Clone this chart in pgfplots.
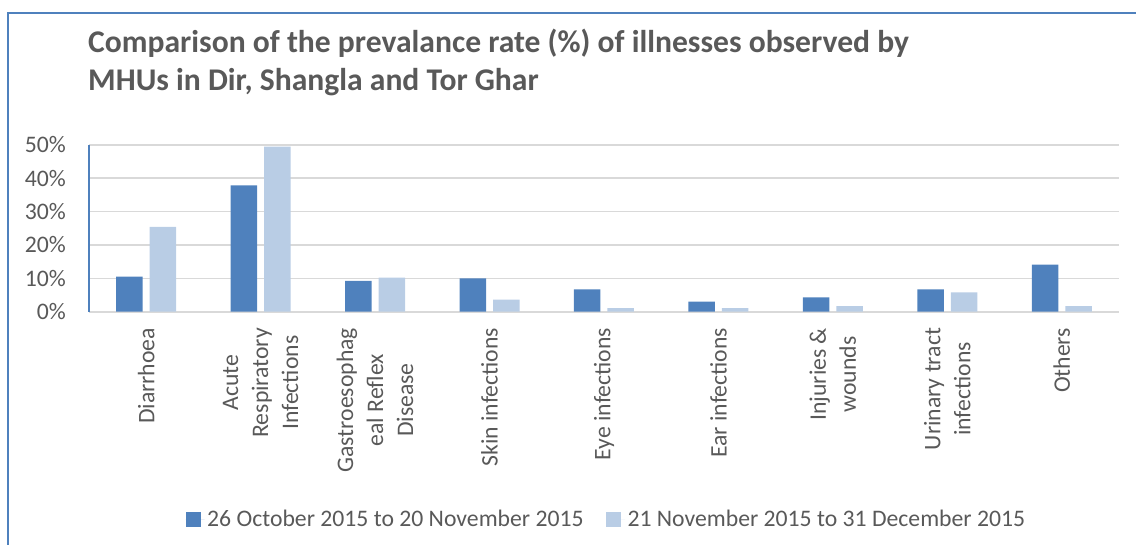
\documentclass[border=0pt]{standalone}
\usepackage{pgfplots}
\pgfplotsset{compat=1.18}
\usepackage{fontspec}
\setmainfont{Carlito}
\definecolor{txt}{HTML}{595959}
\definecolor{dark}{HTML}{4F81BD}
\definecolor{light}{HTML}{B9CDE5}
\definecolor{grid}{HTML}{D9D9D9}
\definecolor{frame}{HTML}{4F81BD}
\begin{document}
\begin{tikzpicture}[x=1pt,y=1pt]
\useasboundingbox (0,0) rectangle (1136,-544);
\draw[frame, line width=1.6pt] (1137,-13) -- (8,-13) -- (8,-545);
\node[anchor=base west, inner sep=0pt, text=txt, font=\fontsize{31.6}{36}\selectfont\bfseries] at (88,-52.7) {Comparison of the prevalance rate (\%) of illnesses observed by};
\node[anchor=base west, inner sep=0pt, text=txt, font=\fontsize{31.6}{36}\selectfont\bfseries] at (88,-90) {MHUs in Dir, Shangla and Tor Ghar};
\begin{axis}[
  at={(89pt,-311.7pt)}, anchor=south west,
  scale only axis, width=1030pt, height=167pt,
  ybar=7pt, bar width=26.5pt,
  xmin=-0.5, xmax=8.5, ymin=0, ymax=50,
  xtick={0,...,8},
  xticklabels={Diarrhoea, Acute\\Respiratory\\Infections, Gastroesophag\\eal Reflex\\Disease, Skin infections, Eye infections, Ear infections, Injuries \&\\wounds, Urinary tract\\infections, Others},
  ytick={0,10,...,50},
  yticklabels={0\%,10\%,20\%,30\%,40\%,50\%},
  major tick length=0pt, tick style={draw=none},
  axis x line*=bottom, axis y line*=left,
  x axis line style={grid, line width=1.6pt},
  y axis line style={frame, line width=1.2pt},
  xmajorgrids=false, ymajorgrids=true,
  y grid style={grid, line width=1.6pt},
  tick label style={text=txt, font=\fontsize{23.7}{30}\selectfont},
  xticklabel style={rotate=90, anchor=east, align=center, inner sep=0pt},
  yticklabel style={anchor=east, inner sep=0pt},
  xticklabel shift=16pt, yticklabel shift=23pt,
  legend columns=2,
  legend style={at={(0.0908,-1.244)}, anchor=west, draw=none, fill=none,
    font=\fontsize{23.7}{28}\selectfont, text=txt,
    nodes={inner sep=2.5pt},
    /tikz/every even column/.append style={column sep=20pt}},
  legend image code/.code={\fill[#1] (0pt,-7.5pt) rectangle (15pt,7.5pt); \path (0pt,0pt) -- (19pt,0pt);},
]
\addplot[fill=dark, draw=none] coordinates {(0,10.5) (1,37.8) (2,9.2) (3,10.0) (4,6.7) (5,3.0) (6,4.3) (7,6.7) (8,14.1)};
\addplot[fill=light, draw=none] coordinates {(0,25.4) (1,49.4) (2,10.2) (3,3.6) (4,1.1) (5,1.1) (6,1.7) (7,5.8) (8,1.7)};
\legend{26 October 2015 to 20 November 2015, 21 November 2015 to 31 December 2015}
\end{axis}
\end{tikzpicture}
\end{document}
